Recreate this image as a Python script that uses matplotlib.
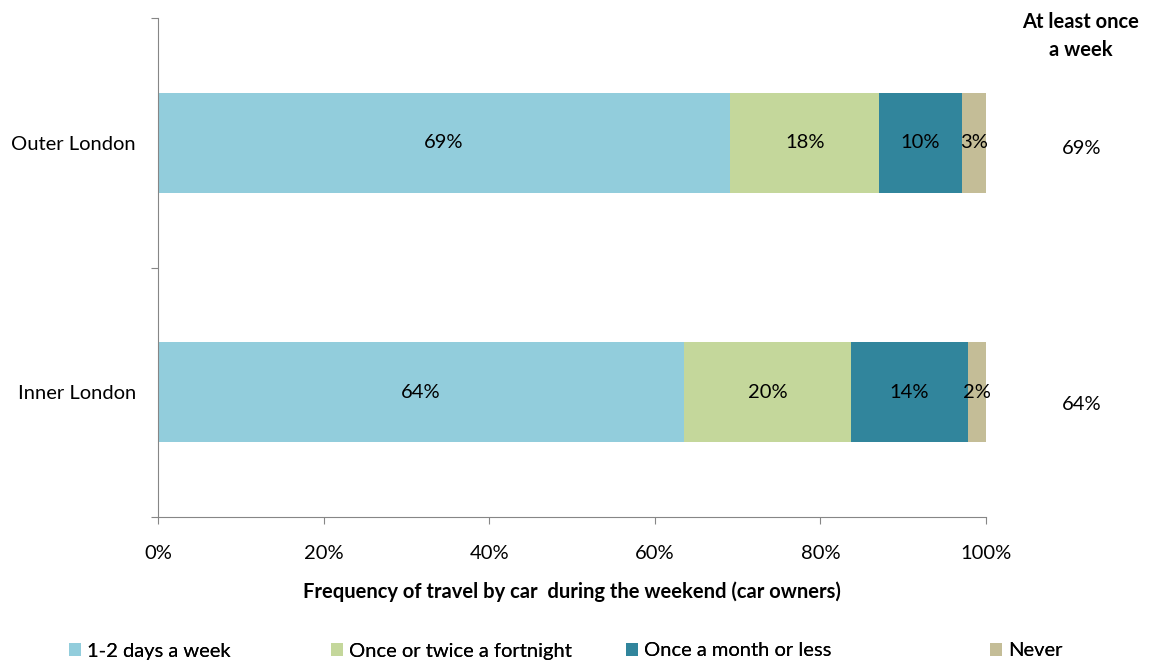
import matplotlib.pyplot as plt
import numpy as np

plt.rcParams['font.family'] = ['Lato', 'DejaVu Sans']

areas = ['Inner London', 'Outer London']
series = ['1-2 days a week', 'Once or twice a fortnight', 'Once a month or less', 'Never']
values = {
    '1-2 days a week': [63.5, 69.1],
    'Once or twice a fortnight': [20.2, 18.0],
    'Once a month or less': [14.1, 10.0],
    'Never': [2.2, 2.9],
}
labels = {
    '1-2 days a week': ['64%', '69%'],
    'Once or twice a fortnight': ['20%', '18%'],
    'Once a month or less': ['14%', '10%'],
    'Never': ['2%', '3%'],
}
weekly = ['64%', '69%']
colors = ['#92CDDC', '#C4D79B', '#31859C', '#C4BD97']

FS = 14.5

fig = plt.figure(figsize=(11.52, 6.62), dpi=100)
ax = fig.add_axes([158/1152, 1-517/662, 828/1152, 499/662])

y = np.arange(len(areas))
left = np.zeros(len(areas))
bars = []
for name, col in zip(series, colors):
    vals = np.array(values[name])
    b = ax.barh(y, vals, left=left, height=0.4, color=col, label=name)
    bars.append(b)
    for yi, v, l, txt in zip(y, vals, left, labels[name]):
        ax.text(l + v / 2, yi, txt, ha='center', va='center', fontsize=FS, color='black')
    left += vals

ax.set_xlim(0, 100)
ax.set_ylim(-0.5, 1.5)
ax.set_xticks(np.arange(0, 101, 20))
ax.set_xticklabels([f'{t}%' for t in range(0, 101, 20)], fontsize=FS)
ax.set_yticks([-0.5, 0.5, 1.5])
ax.set_yticklabels([])
ax.set_yticks(y, minor=True)
ax.set_yticklabels(areas, minor=True, fontsize=FS)
ax.tick_params(axis='y', which='minor', length=0, pad=16)
ax.tick_params(axis='y', which='major', length=5, color='#868686')
ax.tick_params(axis='x', length=5, color='#868686', pad=15)
for s in ['top', 'right']:
    ax.spines[s].set_visible(False)
for s in ['left', 'bottom']:
    ax.spines[s].set_color('#868686')

ax.set_xlabel('Frequency of travel by car  during the weekend (car owners)',
              fontsize=FS, fontweight='bold', labelpad=14)

# right-hand column
fig.text(1081/1152, 1-36/662, 'At least once\na week', ha='center', va='center',
         fontsize=FS, fontweight='bold', linespacing=1.45)
for yi, txt, dy in zip(y, weekly, [-9, -4]):
    ax.annotate(txt, xy=(1, yi), xycoords=('axes fraction', 'data'),
                xytext=(1082/1152, dy), textcoords=('figure fraction', 'offset points'),
                ha='center', va='center', fontsize=FS)

# legend entries placed one by one
leg_x = [69, 331, 626, 990]
for b, name, lx in zip(bars, series, leg_x):
    lg = fig.legend([b], [name], loc='center left', bbox_to_anchor=(lx/1152, 1-651/662),
                    frameon=False, fontsize=FS, handlelength=0.6, handleheight=0.6,
                    handletextpad=0.3, borderpad=0, borderaxespad=0)
    fig.add_artist(lg)

fig.savefig('out.png', dpi=100)
